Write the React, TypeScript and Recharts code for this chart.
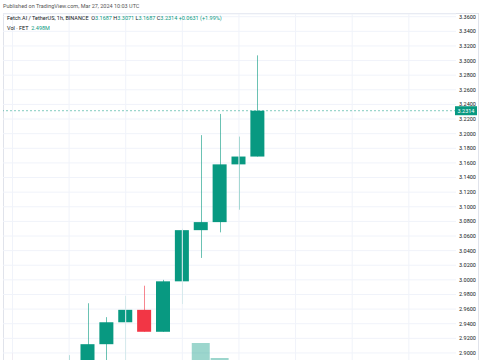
import React from "react";
import { Bar, Cell, ComposedChart, CartesianGrid, ReferenceLine, XAxis, YAxis } from "recharts";

// hourly candles FET/USDT (the last one is the live bar)
const opens = [2.88, 2.86, 2.868, 2.875, 2.885, 2.912, 2.942, 2.959, 2.929, 2.998, 3.068, 3.079, 3.158, 3.1687];
const highs = [2.9, 2.878, 2.884, 2.897, 2.968, 2.949, 2.978, 2.992, 3.0, 3.07, 3.198, 3.227, 3.196, 3.3071];
const lows = [2.85, 2.852, 2.86, 2.868, 2.878, 2.88, 2.885, 2.929, 2.929, 2.967, 3.03, 3.065, 3.096, 3.1687];
const closes = [2.86, 2.868, 2.875, 2.885, 2.912, 2.942, 2.959, 2.929, 2.998, 3.068, 3.079, 3.158, 3.1687, 3.2314];
const volumes = [1.2, 0.9, 0.8, 1.1, 2.2, 1.5, 1.3, 1.6, 2.4, 2.8, 3.85, 3.1, 1.9, 2.498]; // millions
const emptySlots = 10; // free space on the right of the last bar

const priceTicks = [
  2.9, 2.92, 2.94, 2.96, 2.98, 3.0, 3.02, 3.04, 3.06, 3.08, 3.1, 3.12,
  3.14, 3.16, 3.18, 3.2, 3.22, 3.24, 3.26, 3.28, 3.3, 3.32, 3.34, 3.36,
];
const gridSlots = [0, 3, 6, 9, 12, 15, 18, 21];
const lastPrice = 3.2314;

const UP = "#089981";
const DOWN = "#f23645";
const UP_VOL = "rgba(8,153,129,0.4)";
const DOWN_VOL = "rgba(242,54,69,0.4)";
const FONT = "Roboto, 'Noto Sans', sans-serif";

const data = [
  ...opens.map((o, i) => ({ slot: i, open: o, high: highs[i], low: lows[i], close: closes[i], vol: volumes[i] })),
  ...Array.from({ length: emptySlots }, (_, k) => ({ slot: opens.length + k })),
] as any[];

function Candle(props: any) {
  const { x, y, width, height, payload } = props;
  if (payload.open == null || !height) return null;
  const { open, close, high, low } = payload;
  const k = height / (high - low);
  const color = close >= open ? UP : DOWN;
  const top = y + (high - Math.max(open, close)) * k;
  const bodyH = Math.max(1, Math.abs(open - close) * k);
  const cx = Math.round(x + width / 2) + 0.5;
  return (
    <g>
      <line x1={cx} x2={cx} y1={y} y2={y + height} stroke={color} strokeOpacity={0.6} />
      <rect x={x} y={top} width={width} height={bodyH} fill={color} />
    </g>
  );
}

function PriceTag(props: any) {
  const { viewBox } = props;
  const x = viewBox.x + viewBox.width - 1;
  return (
    <g>
      <rect x={x} y={viewBox.y - 4.5} width={22} height={9} fill={UP} />
      <text x={x + 11} y={viewBox.y + 2} textAnchor="middle" fontSize={5.5} fontFamily={FONT} fill="#fff">
        {lastPrice.toFixed(4)}
      </text>
    </g>
  );
}

const g = { color: UP };

export default function App() {
  return (
    <div style={{ position: "fixed", left: 0, top: 0, width: 485, height: 360, overflow: "hidden", background: "#fff", fontFamily: FONT }}>
      <div style={{ position: "absolute", left: 3, top: 3, fontSize: 5.5, color: "#555", whiteSpace: "nowrap" }}>
        Published on TradingView.com, Mar 27, 2024 10:03 UTC
      </div>
      <div style={{ position: "absolute", left: 3, top: 13, width: 476, height: 400, border: "1px solid #e0e3eb", boxSizing: "border-box" }} />
      <div style={{ position: "absolute", left: 7, top: 15, fontSize: 5.5, color: "#131722", whiteSpace: "nowrap", zIndex: 2 }}>
        Fetch.AI / TetherUS, 1h, BINANCE&nbsp; O<span style={g}>3.1687</span> H<span style={g}>3.3071</span> L<span style={g}>3.1687</span>{" "}
        C<span style={g}>3.2314</span> <span style={g}>+0.0631 (+1.99%)</span>
      </div>
      <div style={{ position: "absolute", left: 7, top: 25, fontSize: 5.5, color: "#131722", whiteSpace: "nowrap", zIndex: 2 }}>
        Vol · FET&nbsp; <span style={g}>2.498M</span>
      </div>
      <div style={{ position: "absolute", left: 0, top: 0 }}>
        <ComposedChart width={485} height={420} data={data} margin={{ top: 14, right: 0, left: 3, bottom: 0 }}>
          <XAxis dataKey="slot" type="category" hide />
          <XAxis dataKey="slot" type="category" xAxisId="vol" hide />
          <YAxis
            yAxisId="price"
            orientation="right"
            width={29}
            domain={[2.8083, 3.3637]}
            allowDataOverflow
            ticks={priceTicks}
            interval={0}
            tickFormatter={(v: number) => v.toFixed(4)}
            tick={{ fontSize: 5.5, fill: "#131722", fontFamily: FONT }}
            tickLine={false}
            axisLine={false}
            tickSize={3}
            tickMargin={0}
          />
          <YAxis yAxisId="vol" hide domain={[0, 20.3]} />
          <CartesianGrid yAxisId="price" vertical={false} stroke="#f0f3fa" />
          {gridSlots.map((s) => (
            <ReferenceLine key={s} x={s} yAxisId="price" stroke="#f0f3fa" />
          ))}
          <Bar yAxisId="vol" xAxisId="vol" dataKey="vol" barSize={18} isAnimationActive={false}>
            {data.map((d, i) => (
              <Cell key={i} fill={d.close >= d.open ? UP_VOL : DOWN_VOL} />
            ))}
          </Bar>
          <ReferenceLine
            yAxisId="price"
            y={lastPrice}
            stroke={UP}
            strokeOpacity={0.5}
            strokeDasharray="2 2"
            label={<PriceTag />}
          />
          <Bar
            yAxisId="price"
            dataKey={(d: any) => (d.open == null ? undefined : [d.low, d.high])}
            barSize={14}
            shape={<Candle />}
            isAnimationActive={false}
          />
        </ComposedChart>
      </div>
    </div>
  );
}
